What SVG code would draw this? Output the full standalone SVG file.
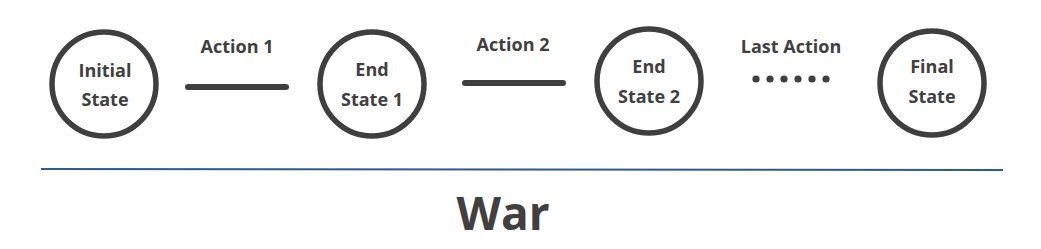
<svg xmlns="http://www.w3.org/2000/svg" width="1041" height="249" viewBox="0 0 1041 249">
<style>
.node{fill:#fff;stroke:#3f3f3f;stroke-width:5.5}
.nt{font-family:"Open Sans","Liberation Sans",sans-serif;font-weight:700;font-size:18px;fill:#404040;text-anchor:middle}
.lbl{font-family:"Open Sans","Liberation Sans",sans-serif;font-weight:700;font-size:18px;fill:#404040;text-anchor:middle}
.edge{stroke:#3f3f3f;stroke-width:6;stroke-linecap:round;fill:none}
.dot{fill:#3f3f3f}
</style>
<rect width="1041" height="249" fill="#fff"/>
<g id="connectors">
<line class="edge" x1="188" y1="87" x2="286" y2="87"/>
<line class="edge" x1="465" y1="83" x2="563" y2="83"/>
<g id="dots">
<circle class="dot" cx="756" cy="79" r="3.6"/>
<circle class="dot" cx="770" cy="79" r="3.6"/>
<circle class="dot" cx="784" cy="79" r="3.6"/>
<circle class="dot" cx="798" cy="79" r="3.6"/>
<circle class="dot" cx="812" cy="79" r="3.6"/>
<circle class="dot" cx="826" cy="79" r="3.6"/>
</g>
<text class="lbl" x="237" y="53">Action 1</text>
<text class="lbl" x="513" y="51">Action 2</text>
<text class="lbl" x="791" y="53">Last Action</text>
</g>
<g id="initial">
<circle class="node" cx="104" cy="84" r="52"/>
<text class="nt" x="105" y="77">Initial</text>
<text class="nt" x="105" y="106">State</text>
</g>
<g id="end1">
<circle class="node" cx="372" cy="84" r="52"/>
<text class="nt" x="372" y="76">End</text>
<text class="nt" x="372" y="106">State 1</text>
</g>
<g id="end2">
<circle class="node" cx="649" cy="81" r="52"/>
<text class="nt" x="649" y="73">End</text>
<text class="nt" x="649" y="103">State 2</text>
</g>
<g id="final">
<circle class="node" cx="932" cy="83" r="52"/>
<text class="nt" x="932" y="73">Final</text>
<text class="nt" x="932" y="103">State</text>
</g>
<line x1="41" y1="169" x2="1003" y2="170" stroke="#2e5a8c" stroke-width="2"/>
<text x="503" y="230" font-family="'Open Sans','Liberation Sans',sans-serif" font-weight="700" font-size="46" fill="#404040" text-anchor="middle">War</text>
</svg>
